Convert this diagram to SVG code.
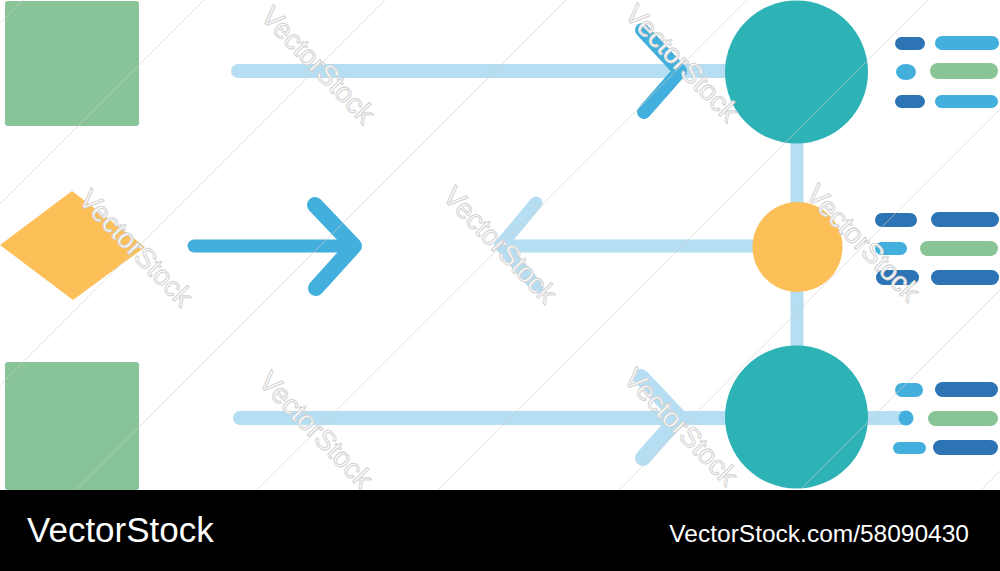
<svg xmlns="http://www.w3.org/2000/svg" width="1000" height="571" viewBox="0 0 1000 571">
  <style>
    .green { fill: #89c498; }
    .teal { fill: #2db2b5; }
    .orange { fill: #fdbf57; }
    .lb { stroke: #b6def3; fill: none; stroke-linecap: round; stroke-linejoin: round; }
    .mb { stroke: #43afdc; fill: none; stroke-linecap: round; stroke-linejoin: round; }
    .dk { fill: #2c74b3; }
    .md { fill: #43afdc; }
    .gr { fill: #88c496; }
    .wm { font-family: "Liberation Sans", Arial, sans-serif; font-size: 28px; fill: #ffffff; stroke: #d2d2d2; stroke-width: 1; text-anchor: middle; dominant-baseline: central; }
    .grid { stroke: #cfcfcf; stroke-width: 1; opacity: 0.6; }
    .foot { font-family: "Liberation Sans", Arial, sans-serif; fill: #ffffff; }
  </style>
  <rect x="0" y="0" width="1000" height="571" fill="#ffffff"/>

  <g id="connectors">
    <path class="lb" d="M797,140 V350" stroke-width="13"/>
    <path class="lb" d="M238,71 H726" stroke-width="14"/>
    <path class="mb" d="M642,30 L680,71 L644,112" stroke-width="14"/>
    <path class="mb" d="M194,246 H352" stroke-width="13"/>
    <path class="mb" d="M315,205 L354,246 L316,288" stroke-width="16"/>
    <path class="lb" d="M753,246 H502" stroke-width="13"/>
    <path class="lb" d="M536,203 L501,245 L537,287" stroke-width="13"/>
    <path class="lb" d="M240,418 H903" stroke-width="14"/>
    <path class="lb" d="M641,377 L679,417 L643,458" stroke-width="16"/>
  </g>

  <g id="node-square-top"><rect class="green" x="5" y="1" width="134" height="125" rx="3"/></g>
  <g id="node-diamond"><polygon class="orange" points="0,245 72,191 145,247 73,300"/></g>
  <g id="node-square-bottom"><rect class="green" x="5" y="362" width="134" height="128" rx="3"/></g>
  <g id="node-circle-top"><circle class="teal" cx="796.5" cy="72" r="71.5"/></g>
  <g id="node-circle-middle"><circle class="orange" cx="797.5" cy="247" r="45"/></g>
  <g id="node-circle-bottom"><circle class="teal" cx="796.5" cy="417" r="71.5"/></g>

  <g id="list-top">
    <rect class="dk" x="895" y="37" width="30" height="13" rx="6.5"/>
    <rect class="md" x="935" y="36" width="64" height="14" rx="7"/>
    <ellipse class="md" cx="906" cy="72" rx="10" ry="8"/>
    <rect class="gr" x="930" y="63" width="68" height="16" rx="8"/>
    <rect class="dk" x="895" y="95" width="30" height="13" rx="6.5"/>
    <rect class="md" x="935" y="95" width="63" height="13" rx="6.5"/>
  </g>
  <g id="list-middle">
    <rect class="dk" x="875" y="213" width="42" height="14" rx="7"/>
    <rect class="dk" x="931" y="212" width="68" height="15" rx="7.5"/>
    <rect class="md" x="875" y="242" width="32" height="13" rx="6.5"/>
    <rect class="gr" x="920" y="241" width="78" height="15" rx="7.5"/>
    <rect class="dk" x="876" y="270" width="43" height="15" rx="7.5"/>
    <rect class="dk" x="931" y="270" width="68" height="15" rx="7.5"/>
  </g>
  <g id="list-bottom">
    <rect class="md" x="895" y="383" width="28" height="14" rx="7"/>
    <rect class="dk" x="935" y="382" width="63" height="15" rx="7.5"/>
    <circle class="md" cx="906" cy="418" r="7.5"/>
    <rect class="gr" x="928" y="411" width="70" height="15" rx="7.5"/>
    <rect class="md" x="893" y="442" width="33" height="12" rx="6"/>
    <rect class="dk" x="933" y="440" width="65" height="15" rx="7.5"/>
  </g>

  <g id="watermark">
    <g class="grid">
      <line x1="0" y1="23" x2="23" y2="0"/>
      <line x1="0" y1="204" x2="204" y2="0"/>
      <line x1="0" y1="385" x2="385" y2="0"/>
      <line x1="76" y1="490" x2="566" y2="0"/>
      <line x1="257" y1="490" x2="747" y2="0"/>
      <line x1="438" y1="490" x2="928" y2="0"/>
      <line x1="619" y1="490" x2="1000" y2="109"/>
      <line x1="800" y1="490" x2="1000" y2="290"/>
      <line x1="981" y1="490" x2="1000" y2="471"/>
    </g>
    <text class="wm" transform="translate(318,65) rotate(46)">VectorStock</text>
    <text class="wm" transform="translate(682,63) rotate(46)">VectorStock</text>
    <text class="wm" transform="translate(136,248) rotate(46)">VectorStock</text>
    <text class="wm" transform="translate(500,245) rotate(46)">VectorStock</text>
    <text class="wm" transform="translate(863,243) rotate(46)">VectorStock</text>
    <text class="wm" transform="translate(316,430) rotate(46)">VectorStock</text>
    <text class="wm" transform="translate(681,427) rotate(46)">VectorStock</text>
  </g>

  <g id="footer">
    <rect x="0" y="490" width="1000" height="81" fill="#000000"/>
    <text class="foot" x="27" y="542" font-size="35">VectorStock</text>
    <text class="foot" x="969" y="542" font-size="24.5" text-anchor="end">VectorStock.com/58090430</text>
  </g>
</svg>
